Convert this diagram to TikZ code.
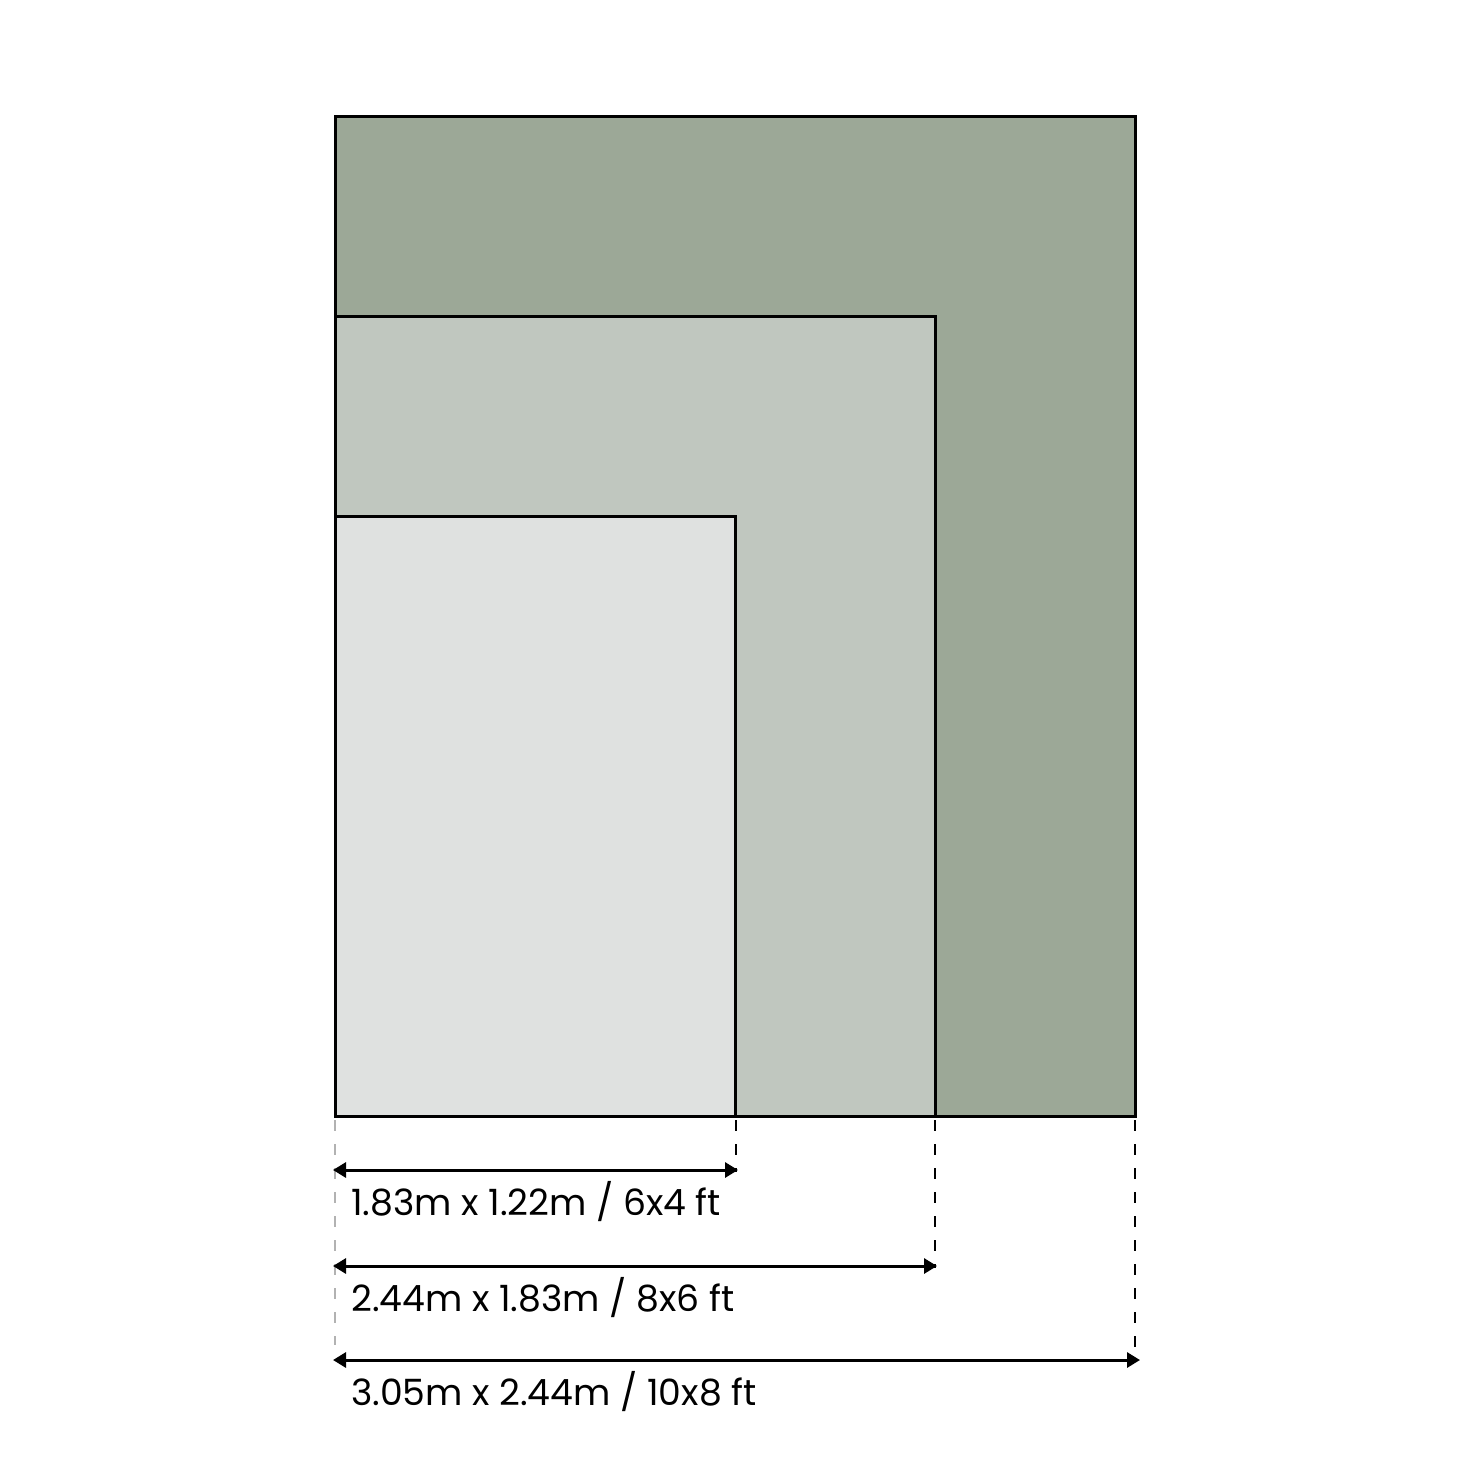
\documentclass[tikz,border=0pt]{standalone}
\usepackage{fontspec}
\setmainfont{Poppins}
\usetikzlibrary{arrows.meta}
\definecolor{rugL}{HTML}{9CA897}
\definecolor{rugM}{HTML}{C0C7BF}
\definecolor{rugS}{HTML}{DFE1E0}
\begin{document}
\begin{tikzpicture}[x=1pt,y=-1pt,
  rug/.style={draw=black,line width=3pt},
  guide/.style={line width=1.3pt,dash pattern=on 11pt off 13pt},
  guidegray/.style={guide,draw=black!30},
  dim/.style={line width=3pt,{Triangle[length=13pt,width=15pt]}-{Triangle[length=13pt,width=15pt]}},
  lbl/.style={anchor=base west,inner sep=0pt,font=\fontsize{36.2}{36}\selectfont}]
\useasboundingbox (0,0) rectangle (1471,1470);
\fill[white] (0,0) rectangle (1471,1470);
\draw[rug,fill=rugL] (335,116) rectangle (1135,1116);
\draw[rug,fill=rugM] (335,316) rectangle (935,1116);
\draw[rug,fill=rugS] (335,516) rectangle (735,1116);
\coordinate (g0a) at (335,1120); \coordinate (g0b) at (335,1345);
\coordinate (g1a) at (736,1120); \coordinate (g1b) at (736,1172);
\coordinate (g2a) at (935,1120); \coordinate (g2b) at (935,1268);
\coordinate (g3a) at (1135,1120); \coordinate (g3b) at (1135,1362);
\draw[guidegray] (g0a) -- (g0b);
\draw[guide] (g1a) -- (g1b);
\draw[guide] (g2a) -- (g2b);
\draw[guide] (g3a) -- (g3b);
\coordinate (a1l) at (333,1170); \coordinate (a1r) at (738,1170);
\coordinate (a2l) at (333,1266); \coordinate (a2r) at (937,1266);
\coordinate (a3l) at (333,1360); \coordinate (a3r) at (1140,1360);
\draw[dim] (a1l) -- (a1r);
\draw[dim] (a2l) -- (a2r);
\draw[dim] (a3l) -- (a3r);
\node[lbl] (t1) at (351,1215) {1.83m x 1.22m / 6x4 ft};
\node[lbl] (t2) at (351,1311) {2.44m x 1.83m / 8x6 ft};
\node[lbl] (t3) at (351,1405) {3.05m x 2.44m / 10x8 ft};
\end{tikzpicture}
\end{document}
